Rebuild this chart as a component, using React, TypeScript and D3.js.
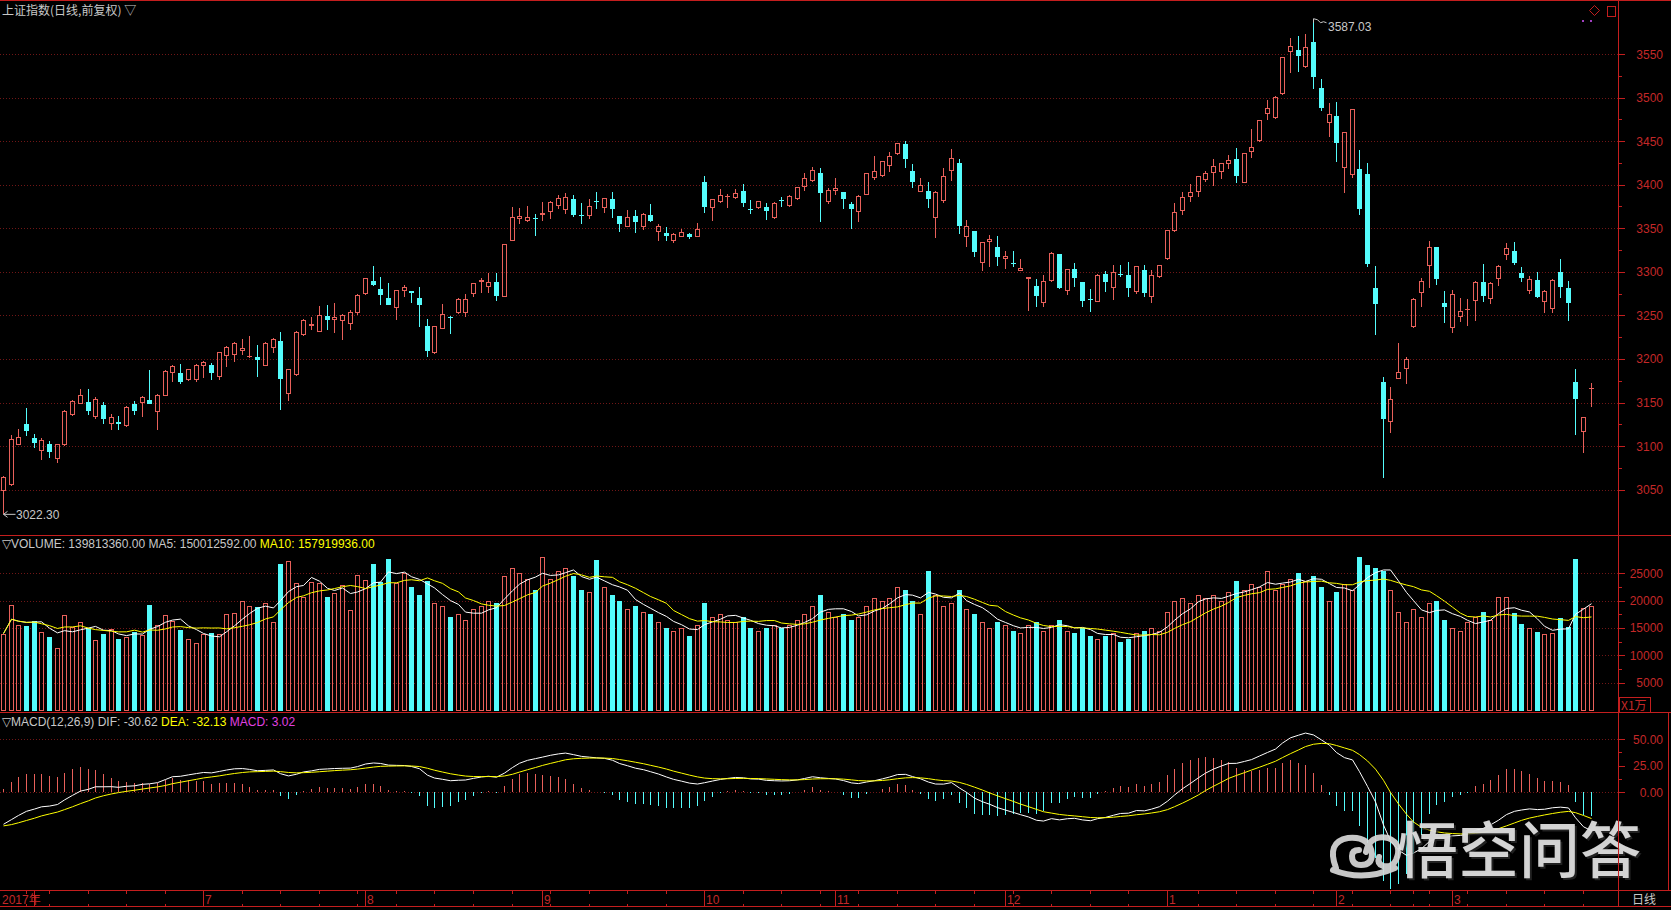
import React from 'react';
import * as d3 from 'd3';

// 上证指数 daily, 2017-05-24 .. 2018-03-27
const opens = [
  3048.3, 3055.1, 3101.8, 3125.9, 3109.5, 3094.2, 3102.6, 3085.4, 3101.0, 3136.2,
  3148.5, 3150.4, 3133.6, 3147.7, 3125.9, 3127.4, 3122.8, 3148.5, 3149.6, 3153.5,
  3138.9, 3157.3, 3184.1, 3184.1, 3175.6, 3176.4, 3191.7, 3193.2, 3179.1, 3203.9,
  3204.3, 3208.9, 3202.4, 3202.4, 3192.5, 3212.7, 3221.2, 3160.0, 3181.4, 3227.3,
  3238.2, 3231.1, 3249.1, 3244.5, 3243.3, 3240.3, 3252.9, 3274.7, 3289.2, 3280.4,
  3270.1, 3258.6, 3277.5, 3277.7, 3269.7, 3237.9, 3206.6, 3234.5, 3248.6, 3253.2,
  3252.5, 3274.3, 3288.0, 3283.0, 3288.0, 3271.6, 3335.8, 3360.7, 3358.4, 3362.2,
  3365.3, 3369.1, 3375.6, 3371.0, 3383.6, 3365.3, 3364.5, 3381.3, 3373.7, 3383.3,
  3364.5, 3351.9, 3364.5, 3351.9, 3364.9, 3346.2, 3344.6, 3335.8, 3340.4, 3343.5,
  3339.7, 3403.5, 3373.0, 3380.6, 3385.6, 3384.4, 3392.8, 3372.6, 3373.0, 3374.1,
  3362.2, 3382.5, 3375.6, 3383.6, 3397.0, 3404.3, 3413.1, 3380.5, 3393.2, 3391.2,
  3377.5, 3369.1, 3388.2, 3407.3, 3410.0, 3421.8, 3434.8, 3446.7, 3415.7, 3392.0,
  3393.2, 3361.4, 3381.7, 3416.1, 3425.3, 3339.6, 3346.9, 3310.5, 3334.6, 3328.9,
  3314.4, 3310.5, 3301.4, 3291.4, 3283.8, 3263.9, 3289.5, 3320.5, 3278.4, 3302.9,
  3287.9, 3268.8, 3265.8, 3297.5, 3281.1, 3297.5, 3296.4, 3276.5, 3302.1, 3271.5,
  3294.5, 3314.4, 3347.3, 3370.2, 3386.3, 3391.2, 3405.4, 3413.8, 3415.0, 3423.4,
  3429.1, 3402.3, 3437.9, 3450.2, 3480.8, 3476.2, 3503.7, 3552.7, 3554.6, 3534.7,
  3563.4, 3510.6, 3470.4, 3478.8, 3418.8, 3411.1, 3417.6, 3412.3, 3281.1, 3173.2,
  3128.1, 3176.7, 3188.1, 3237.1, 3275.4, 3307.1, 3328.1, 3263.9, 3235.2, 3248.6,
  3256.8, 3266.6, 3288.7, 3268.8, 3291.4, 3319.3, 3324.3, 3298.3, 3278.4, 3290.7,
  3265.0, 3257.0, 3299.4, 3281.1, 3174.0, 3116.6, 3165.6,
];
const highs = [
  3065.5, 3113.3, 3119.8, 3143.9, 3114.0, 3109.5, 3106.4, 3103.0, 3141.2, 3153.5,
  3166.1, 3166.1, 3156.1, 3150.4, 3137.0, 3135.1, 3146.6, 3151.5, 3157.3, 3187.9,
  3159.5, 3187.9, 3193.6, 3194.8, 3189.0, 3194.8, 3197.4, 3195.5, 3208.5, 3215.4,
  3219.0, 3223.4, 3226.9, 3216.6, 3219.0, 3224.2, 3231.1, 3189.0, 3231.9, 3246.0,
  3247.9, 3260.5, 3262.5, 3264.4, 3252.1, 3256.0, 3275.1, 3293.5, 3306.5, 3294.2,
  3287.3, 3279.7, 3285.4, 3278.0, 3283.0, 3245.6, 3238.0, 3263.2, 3249.4, 3269.7,
  3274.6, 3287.6, 3292.6, 3299.1, 3298.3, 3332.0, 3374.1, 3372.9, 3375.6, 3366.4,
  3380.6, 3381.7, 3388.2, 3390.1, 3388.2, 3379.4, 3383.6, 3391.3, 3384.5, 3391.3,
  3364.5, 3371.0, 3371.0, 3368.0, 3377.9, 3354.6, 3351.1, 3344.2, 3349.2, 3344.2,
  3356.5, 3410.0, 3383.5, 3394.7, 3389.4, 3394.7, 3400.5, 3382.5, 3381.5, 3378.7,
  3379.8, 3386.3, 3388.6, 3397.8, 3413.1, 3420.7, 3418.8, 3395.8, 3408.1, 3391.5,
  3379.8, 3388.2, 3413.8, 3432.9, 3427.5, 3437.1, 3448.2, 3450.2, 3423.4, 3408.1,
  3402.7, 3392.5, 3418.8, 3440.6, 3429.1, 3359.5, 3347.0, 3334.0, 3342.3, 3341.1,
  3323.9, 3323.9, 3314.7, 3294.5, 3291.8, 3296.4, 3323.2, 3321.0, 3303.0, 3309.8,
  3288.7, 3279.9, 3297.1, 3301.0, 3307.9, 3307.9, 3311.7, 3307.0, 3307.9, 3302.1,
  3308.0, 3348.3, 3378.6, 3391.2, 3400.8, 3410.2, 3415.7, 3429.5, 3424.5, 3434.1,
  3442.5, 3436.8, 3463.9, 3474.5, 3497.2, 3501.8, 3546.2, 3568.0, 3571.0, 3572.9,
  3587.03, 3521.3, 3493.4, 3495.3, 3461.0, 3486.5, 3439.8, 3425.3, 3307.1, 3179.7,
  3168.3, 3218.7, 3201.9, 3269.6, 3293.3, 3335.4, 3328.5, 3278.4, 3279.2, 3269.6,
  3268.5, 3289.9, 3308.6, 3288.0, 3307.5, 3332.7, 3334.6, 3305.2, 3295.6, 3300.2,
  3279.2, 3291.4, 3314.7, 3289.5, 3188.1, 3134.0, 3172.1,
];
const lows = [
  3022.3, 3054.0, 3101.0, 3112.1, 3098.0, 3083.8, 3086.5, 3080.8, 3099.9, 3134.3,
  3148.0, 3136.2, 3131.6, 3125.9, 3118.3, 3119.0, 3122.0, 3136.2, 3133.6, 3148.0,
  3119.0, 3157.0, 3173.3, 3171.8, 3175.0, 3173.3, 3178.3, 3175.6, 3175.6, 3190.5,
  3196.3, 3205.0, 3201.3, 3179.1, 3191.7, 3207.0, 3141.2, 3151.5, 3181.0, 3226.1,
  3233.8, 3231.0, 3233.8, 3230.0, 3221.5, 3233.8, 3251.0, 3274.0, 3283.5, 3262.5,
  3262.0, 3244.5, 3271.3, 3264.7, 3237.2, 3202.0, 3206.0, 3234.0, 3228.7, 3251.7,
  3248.6, 3271.6, 3275.4, 3275.4, 3267.0, 3271.0, 3335.5, 3355.0, 3357.6, 3341.6,
  3358.8, 3360.3, 3371.8, 3366.1, 3363.4, 3354.6, 3360.7, 3371.8, 3367.2, 3362.2,
  3346.2, 3351.0, 3345.0, 3348.1, 3357.6, 3335.8, 3335.8, 3333.5, 3340.0, 3337.4,
  3339.5, 3368.0, 3358.8, 3379.4, 3373.0, 3384.0, 3374.9, 3366.1, 3372.5, 3359.5,
  3360.7, 3374.9, 3374.1, 3382.5, 3392.8, 3403.5, 3357.6, 3377.5, 3388.2, 3372.1,
  3348.8, 3357.6, 3388.0, 3405.4, 3408.5, 3415.0, 3434.0, 3419.6, 3395.8, 3391.5,
  3373.6, 3338.5, 3378.6, 3404.6, 3343.1, 3328.9, 3316.7, 3301.4, 3305.9, 3307.1,
  3302.9, 3305.2, 3301.0, 3255.5, 3260.0, 3259.3, 3288.7, 3279.9, 3273.4, 3283.0,
  3259.3, 3254.3, 3265.5, 3277.3, 3267.7, 3294.5, 3271.5, 3274.6, 3271.5, 3264.6,
  3293.3, 3313.6, 3346.1, 3365.2, 3380.5, 3385.5, 3403.5, 3398.9, 3406.2, 3417.6,
  3402.3, 3402.0, 3431.0, 3449.4, 3474.3, 3475.4, 3502.9, 3527.8, 3528.9, 3534.5,
  3509.8, 3485.0, 3455.1, 3425.7, 3390.1, 3407.3, 3365.2, 3306.0, 3227.5, 3063.8,
  3114.7, 3176.5, 3171.3, 3235.2, 3259.3, 3281.8, 3284.9, 3240.9, 3229.4, 3242.8,
  3237.9, 3244.0, 3265.8, 3262.7, 3284.1, 3313.6, 3307.9, 3288.0, 3274.2, 3269.6,
  3252.4, 3253.2, 3269.6, 3244.0, 3112.8, 3092.5, 3145.3,
];
const closes = [
  3064.7, 3108.7, 3110.6, 3117.9, 3103.7, 3106.8, 3093.0, 3102.6, 3140.8, 3151.5,
  3159.2, 3140.8, 3154.6, 3131.6, 3133.6, 3125.9, 3145.0, 3140.8, 3156.1, 3148.5,
  3159.2, 3186.7, 3192.5, 3173.7, 3188.6, 3193.2, 3196.3, 3184.1, 3208.1, 3213.5,
  3218.5, 3212.7, 3203.9, 3198.6, 3218.5, 3223.1, 3177.5, 3188.6, 3231.1, 3245.3,
  3239.8, 3250.2, 3244.5, 3248.3, 3250.6, 3254.0, 3273.2, 3293.1, 3285.4, 3273.9,
  3262.5, 3278.9, 3282.8, 3276.2, 3262.0, 3209.6, 3237.9, 3251.3, 3247.9, 3268.5,
  3268.5, 3286.9, 3290.7, 3288.0, 3272.3, 3331.6, 3362.6, 3364.5, 3363.4, 3361.1,
  3367.2, 3379.8, 3384.4, 3386.3, 3365.3, 3364.1, 3376.0, 3380.2, 3384.4, 3371.8,
  3354.6, 3362.6, 3357.6, 3366.1, 3358.8, 3352.7, 3341.6, 3343.5, 3345.4, 3340.4,
  3349.2, 3374.1, 3383.3, 3388.2, 3387.1, 3390.9, 3379.4, 3371.8, 3381.4, 3370.3,
  3378.7, 3381.3, 3387.5, 3397.0, 3407.4, 3416.9, 3390.9, 3393.9, 3395.8, 3383.6,
  3372.1, 3387.4, 3413.1, 3415.7, 3427.2, 3432.9, 3447.5, 3429.5, 3403.5, 3399.7,
  3383.2, 3392.0, 3410.0, 3430.3, 3352.6, 3353.0, 3323.2, 3333.9, 3337.3, 3317.4,
  3318.2, 3309.8, 3304.0, 3293.7, 3272.3, 3289.9, 3322.0, 3281.1, 3302.9, 3293.3,
  3266.9, 3268.1, 3296.0, 3288.7, 3299.4, 3296.8, 3281.1, 3306.7, 3276.1, 3296.4,
  3307.9, 3348.0, 3368.3, 3386.3, 3391.2, 3410.0, 3413.8, 3421.8, 3424.5, 3428.3,
  3410.4, 3436.0, 3443.6, 3474.3, 3487.6, 3500.3, 3546.2, 3559.2, 3548.1, 3557.6,
  3523.2, 3488.4, 3480.8, 3447.5, 3460.9, 3486.5, 3371.7, 3309.0, 3262.7, 3130.8,
  3154.1, 3184.7, 3199.6, 3268.5, 3289.5, 3328.9, 3291.8, 3260.0, 3274.2, 3255.1,
  3257.9, 3288.7, 3272.7, 3287.6, 3307.1, 3327.0, 3310.5, 3292.6, 3291.4, 3270.8,
  3278.4, 3290.7, 3282.2, 3264.6, 3153.7, 3133.8, 3166.3,
];
// volume, 万股
const volumes = [
  13981, 19196, 15540, 15356, 16270, 14260, 13345, 11273, 17367, 15235,
  16088, 14930, 12797, 13894, 14869, 13040, 13406, 14320, 13772, 19196,
  15540, 17367, 16331, 14625, 12980, 12187, 13833, 14016, 13894, 17550,
  17672, 19988, 19013, 18769, 19500, 16027, 26691, 27240, 23278, 20597,
  23340, 23278, 20719, 21329, 22852, 18282, 24680, 23766, 26691, 23462,
  27605, 23157, 25107, 22500, 21000, 23500, 19500, 19000, 17000, 17500,
  16500, 18500, 19000, 20000, 19500, 24500, 26000, 25000, 24000, 22000,
  28000, 24000, 25500, 26000, 24500, 22000, 21500, 27500, 22500, 21000,
  20000, 18500, 19000, 18000, 17500, 16000, 15000, 14500, 15000, 13500,
  15500, 19500, 17000, 17500, 16500, 16000, 17000, 15000, 14500, 15000,
  15500, 15000, 15500, 16500, 17500, 19000, 21000, 18000, 17000, 17500,
  16500, 17000, 19000, 20500, 20000, 20500, 22500, 22000, 20000, 17500,
  25500, 21000, 19000, 19500, 22000, 18500, 17500, 16000, 15000, 16000,
  15500, 14500, 14000, 15500, 16000, 14500, 15500, 16500, 14500, 14000,
  15000, 13500, 13000, 13500, 14000, 12500, 13000, 14000, 14500, 15000,
  14500, 18000, 20000, 20500, 19500, 21000, 20500, 21000, 20000, 21500,
  23500, 22000, 23000, 22500, 25500, 22000, 23000, 24000, 25000, 23500,
  24500, 22500, 20000, 21500, 23000, 22000, 28000, 26500, 26000, 25500,
  22000, 18000, 16000, 18500, 17000, 19500, 20000, 16500, 15000, 14500,
  16000, 17000, 18000, 16500, 20700, 20600, 17670, 15720, 14930, 14320,
  13890, 14020, 16760, 15230, 27600, 18590, 19010,
];

const holidays = ['2017-05-29', '2017-05-30', '2017-10-02', '2017-10-03', '2017-10-04', '2017-10-05',
  '2017-10-06', '2018-01-01', '2018-02-15', '2018-02-16', '2018-02-19', '2018-02-20', '2018-02-21'];
const priceTicks = [3050, 3100, 3150, 3200, 3250, 3300, 3350, 3400, 3450, 3500, 3550];
const volumeTicks = [5000, 10000, 15000, 20000, 25000];
const macdTicks = [0, 25, 50];
const macdGrid = [0, 50];

// header values shown for the first bar
const DIF0 = -30.62, DEA0 = -32.13;
const EMA26_SEED = 3112;

const W = 1671, H = 910;
const RED = '#e8605a', CYAN = '#54fcfc', LINE = '#c41e1e', AXIS = '#c42828', GRID = '#701616', TXT = '#c8c8c8';
const NUM = "'Liberation Sans', Arial, sans-serif";
const CJK = "'Noto Sans CJK SC', sans-serif";

const fmt = d3.timeFormat('%Y-%m-%d');

export default function App() {
  const N = closes.length;
  const dates = d3.timeDay.range(new Date(2017, 4, 24), new Date(2018, 2, 28))
    .filter(d => d.getDay() !== 0 && d.getDay() !== 6 && !holidays.includes(fmt(d)));

  const x = d3.scaleBand<number>().domain(d3.range(N)).range([-0.55, 1595.0]);
  const cx = (i: number) => Math.floor(x(i)! + x.bandwidth() / 2);

  const yP = d3.scaleLinear().domain([3050, 3550]).range([489.7, 54]);
  const yV = d3.scaleLinear().domain([0, 25000]).range([710, 573.25]);
  const yM = d3.scaleLinear().domain([0, 50]).range([792, 739.3]);

  // MACD(12,26,9)
  const dif: number[] = [], dea: number[] = [];
  let e26 = EMA26_SEED, e12 = EMA26_SEED + DIF0;
  closes.forEach((c, i) => {
    if (i > 0) {
      e12 = e12 * 11 / 13 + c * 2 / 13;
      e26 = e26 * 25 / 27 + c * 2 / 27;
      dif.push(e12 - e26);
      dea.push(dea[i - 1] * 0.8 + dif[i] * 0.2);
    } else {
      dif.push(DIF0);
      dea.push(DEA0);
    }
  });
  const hist = dif.map((d, i) => 2 * (d - dea[i]));

  const ma = (n: number) => volumes.map((_, i) => d3.mean(volumes.slice(Math.max(0, i - n + 1), i + 1))!);
  const ma5 = ma(5), ma10 = ma(10);

  const line = (vals: number[], y: d3.ScaleLinear<number, number>) =>
    d3.line<number>().x((_, i) => cx(i) + 0.5).y(v => y(v))(vals)!;

  const monthStarts = dates.map((d, i) => ({ d, i }))
    .filter(({ d, i }) => i > 0 && d.getMonth() !== dates[i - 1].getMonth());
  const weekStarts = dates.map((d, i) => ({ d, i }))
    .filter(({ d, i }) => i > 0 && d3.timeMonday.floor(d).getTime() !== d3.timeMonday.floor(dates[i - 1]).getTime());

  const candles = closes.map((c, i) => {
    const o = opens[i];
    const up = c >= o;
    const xc = cx(i);
    const top = Math.round(yP(Math.max(o, c)));
    const bot = Math.round(yP(Math.min(o, c)));
    const hy = Math.round(yP(highs[i]));
    const ly = Math.round(yP(lows[i]));
    const col = up ? RED : CYAN;
    if (bot - top <= 1) {
      return (
        <g key={i} stroke={col}>
          <line x1={xc + 0.5} x2={xc + 0.5} y1={hy} y2={ly} />
          <line x1={xc - 2} x2={xc + 3} y1={top + 0.5} y2={top + 0.5} />
        </g>
      );
    }
    if (up) {
      return (
        <g key={i} stroke={col} fill="none">
          <line x1={xc + 0.5} x2={xc + 0.5} y1={hy} y2={top} />
          <line x1={xc + 0.5} x2={xc + 0.5} y1={bot} y2={ly} />
          <rect x={xc - 1.5} y={top + 0.5} width={4} height={bot - top - 1} />
        </g>
      );
    }
    return (
      <g key={i}>
        <line x1={xc + 0.5} x2={xc + 0.5} y1={hy} y2={ly} stroke={col} />
        <rect x={xc - 2} y={top} width={5} height={bot - top} fill={col} />
      </g>
    );
  });

  const volBars = volumes.map((v, i) => {
    const up = closes[i] >= opens[i];
    const xc = cx(i);
    const top = Math.round(yV(v));
    const base = 711;
    return up
      ? <rect key={i} x={xc - 1.5} y={top + 0.5} width={4} height={base - top - 1} fill="none" stroke={RED} />
      : <rect key={i} x={xc - 2} y={top} width={5} height={base - top} fill={CYAN} />;
  });

  const macdBars = hist.map((h, i) => (
    <line key={i} x1={cx(i) + 0.5} x2={cx(i) + 0.5} y1={yM(0)} y2={yM(h)} stroke={h >= 0 ? RED : CYAN} />
  ));

  const dotted = (y: number, k: string) => (
    <line key={k} x1={0} x2={1618} y1={Math.round(y) + 0.5} y2={Math.round(y) + 0.5}
      stroke={GRID} strokeDasharray="1,2" />
  );

  const axisTicks = (ticks: number[], y: d3.ScaleLinear<number, number>, step: number, k: string) => {
    const els: JSX.Element[] = [];
    ticks.forEach(t => {
      const yy = Math.round(y(t)) + 0.5;
      els.push(<line key={k + 'M' + t} x1={1618} x2={1625} y1={yy} y2={yy} stroke={LINE} />);
      const ym = Math.round(y(t + step / 2)) + 0.5;
      if (t !== ticks[ticks.length - 1])
        els.push(<line key={k + 'm' + t} x1={1618} x2={1622} y1={ym} y2={ym} stroke={LINE} />);
    });
    return els;
  };

  const hiIdx = d3.maxIndex(highs);
  const loIdx = d3.minIndex(lows);

  return (
    <svg width={W} height={H} style={{ position: 'fixed', left: 0, top: 0, background: '#000', display: 'block' }}
      shapeRendering="crispEdges">
      <rect width={W} height={H} fill="#000" />

      {/* grids */}
      {priceTicks.map(t => dotted(yP(t), 'p' + t))}
      {volumeTicks.map(t => dotted(yV(t), 'v' + t))}
      {macdGrid.map(t => dotted(yM(t), 'm' + t))}

      {/* price panel */}
      {candles}
      <g shapeRendering="auto" fontFamily={NUM} fontSize={12} fill={TXT}>
        <path d={`M${cx(hiIdx) + 0.5},${yP(highs[hiIdx]) + 1} l0,-4 l4,1 l3,3 l3,-1 l3,1`} stroke={TXT} fill="none" />
        <text x={cx(hiIdx) + 15} y={yP(highs[hiIdx]) + 9}>{highs[hiIdx].toFixed(2)}</text>
        <path d={`M${cx(loIdx) + 0.5},${yP(lows[loIdx]) + 0.5} l12,0 M${cx(loIdx) + 0.5},${yP(lows[loIdx]) + 0.5} l4,-3 M${cx(loIdx) + 0.5},${yP(lows[loIdx]) + 0.5} l4,3`}
          stroke={TXT} fill="none" />
        <text x={cx(loIdx) + 13} y={yP(lows[loIdx]) + 5}>{lows[loIdx].toFixed(2)}</text>
      </g>
      <text x={2} y={15} fontFamily={CJK} fontSize={12} fill={TXT}>上证指数(日线,前复权) ▽</text>

      {/* volume panel */}
      {volBars}
      <g fill="none" strokeWidth={1} shapeRendering="auto">
        <path d={line(ma5, yV)} stroke="#ffffff" />
        <path d={line(ma10, yV)} stroke="#ffff00" />
      </g>
      <text x={2} y={548} fontFamily={NUM} fontSize={12} fill={TXT}>
        ▽VOLUME: 139813360.00  MA5: 150012592.00  <tspan fill="#ffff00">MA10: 157919936.00</tspan>
      </text>

      {/* macd panel */}
      {macdBars}
      <g fill="none" strokeWidth={1} shapeRendering="auto">
        <path d={line(dif, yM)} stroke="#ffffff" />
        <path d={line(dea, yM)} stroke="#ffff00" />
      </g>
      <text x={2} y={726} fontFamily={NUM} fontSize={12} fill={TXT}>
        ▽MACD(12,26,9)  DIF: -30.62  <tspan fill="#ffff00">DEA: -32.13</tspan>  <tspan fill="#e040e0">MACD: 3.02</tspan>
      </text>

      {/* watermark */}
      <g shapeRendering="auto">
        <g fill="none" stroke="#d8d8d8" strokeWidth={6} strokeLinecap="round" opacity={0.92}>
          <path d="M1336,868 q-10,-26 12,-30 q22,-2 24,16 q0,11 -11,11 q-9,0 -9,-9 q0,-6 7,-6" />
          <path d="M1366,852 q4,-18 22,-14 q15,6 8,22 q-4,8 -13,6 q-6,-2 -4,-9" />
          <path d="M1333,870 q30,12 62,-2" />
        </g>
        <text x={1397} y={873} fontFamily={CJK} fontSize={61} fontWeight={500} fill="#303030" opacity={0.7}
          dx={2} dy={2}>悟空问答</text>
        <text x={1397} y={873} fontFamily={CJK} fontSize={61} fontWeight={500} fill="#e4e4e4" opacity={0.92}>悟空问答</text>
      </g>

      {/* frame */}
      <g stroke={LINE} fill="none">
        <line x1={0} x2={W} y1={0.5} y2={0.5} />
        <line x1={1618.5} x2={1618.5} y1={0} y2={907} />
        <line x1={0} x2={W} y1={535.5} y2={535.5} />
        <line x1={0} x2={W} y1={712.5} y2={712.5} />
        <line x1={0} x2={W} y1={890.5} y2={890.5} />
        <line x1={0} x2={W} y1={906.5} y2={906.5} />
        <line x1={1668.5} x2={1668.5} y1={712.5} y2={890.5} />
        <rect x={1619.5} y={697.5} width={31} height={15} />
        <rect x={1607.5} y={6.5} width={8} height={10} />
        <path d="M1594.5,5.5 l5,5 l-5,5 l-5,-5 z" shapeRendering="auto" />
      </g>
      <circle cx={1583} cy={21} r={1} fill="#a040c0" />
      <circle cx={1591} cy={21} r={1} fill="#a040c0" />

      {/* right axes */}
      {axisTicks(priceTicks, yP, 50, 'p')}
      {axisTicks(volumeTicks, yV, 5000, 'v')}
      {axisTicks(macdTicks, yM, 25, 'm')}
      <g fontFamily={NUM} fontSize={12} fill={AXIS} textAnchor="end">
        {priceTicks.map(t => <text key={t} x={1663} y={yP(t) + 4.5}>{t}</text>)}
        {volumeTicks.map(t => <text key={t} x={1663} y={yV(t) + 4.5}>{t}</text>)}
        {macdTicks.map(t => <text key={t} x={1663} y={yM(t) + 4.5}>{t.toFixed(2)}</text>)}
      </g>
      <text x={1621} y={710} fontFamily={CJK} fontSize={12} fill={AXIS}>X1万</text>

      {/* date axis */}
      <g stroke={LINE}>
        {weekStarts.map(({ i }) => (
          <g key={'w' + i}>
            <line x1={cx(i) + 0.5} x2={cx(i) + 0.5} y1={891} y2={894} />
            <line x1={cx(i) + 0.5} x2={cx(i) + 0.5} y1={904} y2={907} />
          </g>
        ))}
        {monthStarts.map(({ i }) => (
          <line key={'mo' + i} x1={cx(i) + 0.5} x2={cx(i) + 0.5} y1={891} y2={907} />
        ))}
      </g>
      <g fontFamily={NUM} fontSize={12} fill={AXIS}>
        <text x={2} y={904}>2017<tspan fontFamily={CJK}>年</tspan></text>
        {monthStarts.filter(({ d }) => d.getMonth() !== 5).map(({ d, i }) => (
          <text key={i} x={cx(i) + 2} y={904}>{d.getMonth() + 1}</text>
        ))}
      </g>
      <text x={1632} y={904} fontFamily={CJK} fontSize={12} fill={TXT}>日线</text>
    </svg>
  );
}
